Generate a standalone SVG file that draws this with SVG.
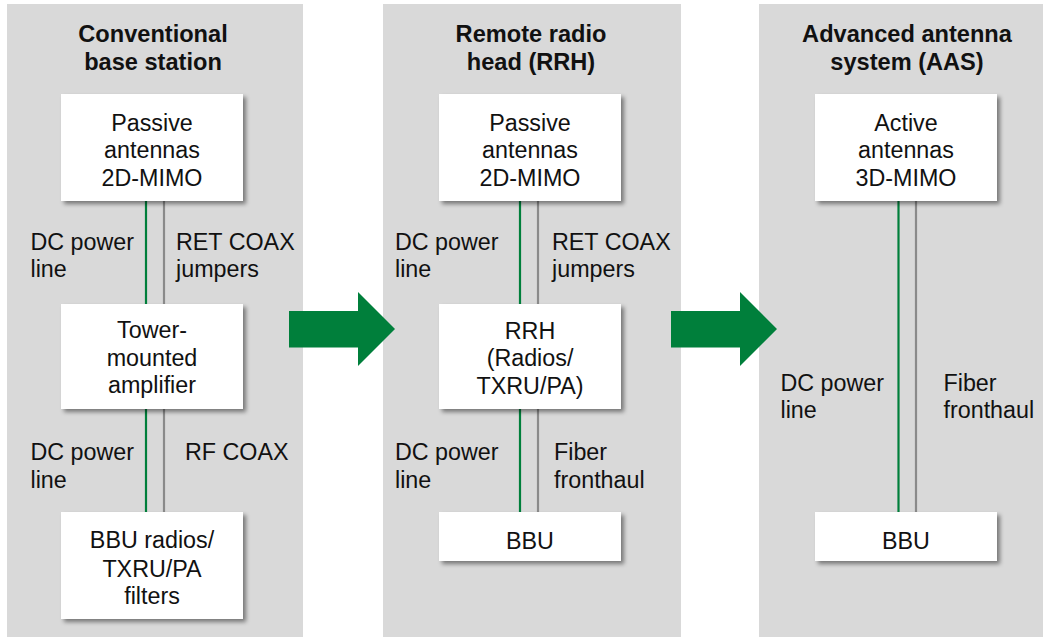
<svg xmlns="http://www.w3.org/2000/svg" width="1043" height="637" viewBox="0 0 1043 637">
<defs>
<filter id="sh" x="-10%" y="-10%" width="130%" height="140%">
<feDropShadow dx="3" dy="3" stdDeviation="2" flood-color="#000" flood-opacity="0.45"/>
</filter>
<style>
.panel{fill:#d9d9d9}
.box{fill:#fff;filter:url(#sh)}
.t{font-family:"Liberation Sans",Arial,sans-serif;font-size:23.3px;fill:#111}
.c{text-anchor:middle}
.h{font-family:"Liberation Sans",Arial,sans-serif;font-size:23.6px;font-weight:bold;fill:#111;text-anchor:middle}
.g{stroke:#007f3b;stroke-width:2.2;fill:none}
.k{stroke:#8a8a8a;stroke-width:2.2;fill:none}
.arr{fill:#007f3b}
</style>
</defs>
<rect width="1043" height="637" fill="#fff"/>
<g id="panels">
<rect class="panel" x="7" y="4" width="296" height="633"/>
<rect class="panel" x="383" y="4" width="298" height="633"/>
<rect class="panel" x="759" y="4" width="284" height="633"/>
</g>
<g id="titles">
<text class="h" x="153" y="42">Conventional</text>
<text class="h" x="153" y="69.5">base station</text>
<text class="h" x="531" y="42">Remote radio</text>
<text class="h" x="531" y="69.5">head (RRH)</text>
<text class="h" x="907" y="42">Advanced antenna</text>
<text class="h" x="907" y="69.5">system (AAS)</text>
</g>
<g id="connectors">
<line class="g" x1="146" y1="201" x2="146" y2="304"/>
<line class="k" x1="164" y1="201" x2="164" y2="304"/>
<line class="g" x1="146" y1="409" x2="146" y2="512"/>
<line class="k" x1="164" y1="409" x2="164" y2="512"/>
<line class="g" x1="520" y1="201" x2="520" y2="304"/>
<line class="k" x1="538" y1="201" x2="538" y2="304"/>
<line class="g" x1="520" y1="409" x2="520" y2="512"/>
<line class="k" x1="538" y1="409" x2="538" y2="512"/>
<line class="g" x1="898.5" y1="201" x2="898.5" y2="512"/>
<line class="k" x1="916" y1="201" x2="916" y2="512"/>
</g>
<g id="connector-labels">
<text class="t" x="30.5" y="250">DC power</text>
<text class="t" x="30.5" y="277">line</text>
<text class="t" x="176" y="250">RET COAX</text>
<text class="t" x="176" y="277">jumpers</text>
<text class="t" x="30.5" y="460">DC power</text>
<text class="t" x="30.5" y="488">line</text>
<text class="t" x="185" y="460">RF COAX</text>
<text class="t" x="395" y="250">DC power</text>
<text class="t" x="395" y="277">line</text>
<text class="t" x="552" y="250">RET COAX</text>
<text class="t" x="552" y="277">jumpers</text>
<text class="t" x="395" y="460">DC power</text>
<text class="t" x="395" y="488">line</text>
<text class="t" x="554" y="460">Fiber</text>
<text class="t" x="554" y="488">fronthaul</text>
<text class="t" x="780.5" y="391">DC power</text>
<text class="t" x="780.5" y="418">line</text>
<text class="t" x="943.5" y="391">Fiber</text>
<text class="t" x="943.5" y="418">fronthaul</text>
</g>
<g id="arrow1"><polygon class="arr" points="289,311 358,311 358,292 395,329 358,366 358,347.5 289,347.5"/></g>
<g id="arrow2"><polygon class="arr" points="671,311 740,311 740,292 777,329 740,366 740,347.5 671,347.5"/></g>
<g id="node-passive-1">
<rect class="box" x="61" y="94" width="182" height="107"/>
<text class="t c" x="152" y="130.5">Passive</text>
<text class="t c" x="152" y="158">antennas</text>
<text class="t c" x="152" y="185.5">2D-MIMO</text>
</g>
<g id="node-tma">
<rect class="box" x="61" y="304" width="182" height="105"/>
<text class="t c" x="152" y="337.5">Tower-</text>
<text class="t c" x="152" y="365.5">mounted</text>
<text class="t c" x="152" y="393">amplifier</text>
</g>
<g id="node-bbu-radios">
<rect class="box" x="61" y="512" width="182" height="107"/>
<text class="t c" x="152" y="548">BBU radios/</text>
<text class="t c" x="152" y="576.5">TXRU/PA</text>
<text class="t c" x="152" y="604">filters</text>
</g>
<g id="node-passive-2">
<rect class="box" x="439" y="94" width="182" height="107"/>
<text class="t c" x="530" y="130.5">Passive</text>
<text class="t c" x="530" y="158">antennas</text>
<text class="t c" x="530" y="185.5">2D-MIMO</text>
</g>
<g id="node-rrh">
<rect class="box" x="439" y="304" width="182" height="105"/>
<text class="t c" x="530" y="338.5">RRH</text>
<text class="t c" x="530" y="366">(Radios/</text>
<text class="t c" x="530" y="393.5">TXRU/PA)</text>
</g>
<g id="node-bbu-2">
<rect class="box" x="439" y="512" width="182" height="49"/>
<text class="t c" x="530" y="548.5">BBU</text>
</g>
<g id="node-active">
<rect class="box" x="815" y="94" width="182" height="107"/>
<text class="t c" x="906" y="130.5">Active</text>
<text class="t c" x="906" y="158">antennas</text>
<text class="t c" x="906" y="185.5">3D-MIMO</text>
</g>
<g id="node-bbu-3">
<rect class="box" x="815" y="512" width="182" height="49"/>
<text class="t c" x="906" y="548.5">BBU</text>
</g>
</svg>
